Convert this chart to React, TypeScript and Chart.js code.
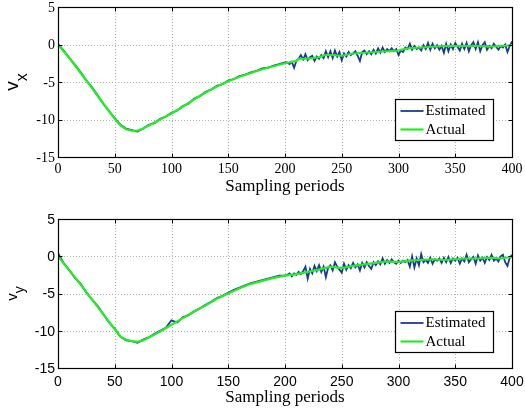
import React, { useEffect, useRef } from 'react';
import { Chart, registerables } from 'chart.js';

Chart.register(...registerables);

// ---------- data ----------
const X_MIN = 0;
const X_MAX = 400;
const Y_MIN = -15;
const Y_MAX = 5;
const xTickLabels = ['0', '50', '100', '150', '200', '250', '300', '350', '400'];
const yTickLabels = ['5', '0', '-5', '-10', '-15'];
const legendLabels = ['Estimated', 'Actual'];
const xTitle = 'Sampling periods';

function range(start: number, end: number, step: number): number[] {
  const out: number[] = [];
  for (let v = start; v <= end; v += step) out.push(v);
  return out;
}

// sample positions of the estimated signals (coarse in smooth part, dense in noisy part)
const estSamples = [...range(0, 200, 5), ...range(202, 400, 2)];

// v_x
const actualVxSamples = [0, 10, 20, 30, 40, 50, 55, 60, 65, 70, 75, 80, 90, 100, 110, 120, 130, 140, 150, 160, 170, 180, 190, 200, 210, 212, 220, 230, 235, 240, 250, 260, 270, 280, 290, 300, 305, 310, 320, 330, 340, 350, 360, 370, 380, 390, 400];
const actualVx = [0, -1.8, -3.8, -5.8, -7.9, -9.9, -10.8, -11.3, -11.5, -11.5, -11.2, -10.8, -10.0, -9.2, -8.3, -7.3, -6.4, -5.6, -4.9, -4.3, -3.8, -3.3, -2.9, -2.5, -2.2, -1.9, -1.9, -1.7, -1.4, -1.4, -1.5, -1.2, -1.1, -1.0, -0.9, -0.8, -0.6, -0.5, -0.4, -0.3, -0.2, -0.2, -0.2, -0.2, -0.3, -0.2, -0.1];
const estimatedVx = [
  0.1, -0.8, -1.8, -2.7, -3.7, -4.8, -5.7, -6.8, -7.9, -8.9,
  -9.8, -10.7, -11.2, -11.4, -11.6, -11.2, -10.7, -10.5, -9.9, -9.6,
  -9.1, -8.8, -8.2, -7.9, -7.2, -6.9, -6.3, -6.0, -5.5, -5.3,
  -4.8, -4.6, -4.2, -4.0, -3.7, -3.5, -3.2, -3.1, -2.8, -2.6,
  -2.4,
  -2.4, -2.6, -2.3, -3.1, -2.2, -1.9, -1.4, -2.0, -1.3, -2.1,
  -1.7, -1.5, -2.2, -1.6, -1.9, -1.4, -1.8, -0.9, -1.7, -0.9,
  -1.8, -0.8, -1.6, -1.0, -2.1, -1.2, -1.6, -1.0, -1.4, -1.2,
  -0.9, -1.5, -2.2, -1.0, -0.8, -1.3, -0.9, -1.3, -0.7, -1.2,
  -0.5, -1.1, -0.4, -1.0, -0.6, -0.9, -0.5, -0.9, -0.6, -1.4,
  -0.8, -1.0, -0.4, -0.6, 0.1, -0.7, -0.2, -0.6, -0.4, -0.8,
  -0.1, -0.6, 0.2, -0.7, 0.1, -0.5, -0.1, -0.7, -0.2, -1.1,
  0.1, -0.9, 0.0, -0.6, 0.2, -0.3, -0.8, 0.1, -0.6, 0.2,
  -0.9, -0.1, 0.3, -0.6, 0.3, -0.9, -0.1, 0.3, -0.7, -0.2,
  -0.5, 0.1, -0.3, -0.7, -0.2, -0.4, 0.0, -1.0, -0.2, 0.4,
];

// v_y
const actualVySamples = [0, 10, 20, 30, 40, 50, 55, 60, 65, 70, 75, 80, 90, 100, 110, 120, 130, 140, 150, 160, 170, 180, 190, 200, 210, 220, 230, 240, 250, 260, 270, 280, 290, 300, 310, 320, 330, 340, 350, 360, 370, 380, 390, 400];
const actualVy = [0, -1.9, -3.8, -5.8, -7.8, -9.8, -10.8, -11.2, -11.4, -11.5, -11.3, -10.9, -10.1, -9.2, -8.3, -7.4, -6.6, -5.7, -5.0, -4.3, -3.7, -3.3, -2.9, -2.6, -2.4, -2.1, -1.8, -1.4, -1.6, -1.3, -1.1, -0.9, -0.7, -0.8, -0.6, -0.5, -0.4, -0.5, -0.4, -0.3, -0.3, -0.2, -0.3, -0.1];
const estimatedVy = [
  0.4, -0.9, -1.9, -2.9, -3.7, -4.9, -5.8, -6.7, -7.8, -8.9,
  -9.7, -10.8, -11.3, -11.4, -11.6, -11.2, -10.9, -10.4, -10.0, -9.6,
  -8.6, -8.9, -8.2, -7.9, -7.4, -7.0, -6.5, -6.1, -5.6, -5.3,
  -4.9, -4.5, -4.2, -3.9, -3.6, -3.4, -3.2, -3.0, -2.8, -2.6,
  -2.6,
  -2.5, -2.3, -2.7, -2.3, -2.5, -2.1, -2.4, -2.0, -1.4, -3.0,
  -1.7, -2.3, -1.3, -2.0, -1.2, -2.1, -1.4, -2.8, -1.5, -1.2,
  -1.9, -0.8, -1.4, -1.8, -2.2, -1.0, -1.8, -1.2, -1.6, -0.9,
  -1.5, -1.1, -1.9, -0.9, -1.5, -0.8, -1.3, -1.7, -0.8, -1.2,
  -0.7, -1.1, -0.3, -1.0, -0.5, -0.9, -0.4, -0.8, -1.0, -0.6,
  -0.9, -0.6, -0.8, -0.5, -1.4, 0.0, -1.5, -0.3, -1.2, 0.3,
  -0.8, -0.5, -0.9, -0.2, -1.0, -0.4, -0.6, -0.3, -0.9, -0.2,
  -0.8, -0.1, -0.9, -0.3, -0.6, -0.2, -1.0, -0.3, -0.7, 0.2,
  -0.8, -0.4, -0.1, -1.0, 0.1, -0.6, -0.2, -0.9, -0.1, -0.5,
  0.2, -0.6, -0.3, -0.7, 0.0, 0.2, -0.8, -1.3, -0.2, 0.2,
];

// ---------- style ----------
const EST_COLOR = '#1a3a96';
const ACT_COLOR = '#22ee22';
const GRID_COLOR = '#b0b0b0';

type PanelCfg = {
  id: string;
  height: number;
  padTop: number;
  xAxisHeight: number;
  tickFont: string;
  xTickBaseline: number;
  sym: string;
  sub: string;
  symFont: string;
  subFont: string;
  symBaseX: number;
  subBaseX: number;
  legendBottomGap: number;
};

function pts(xs: number[], ys: number[]) {
  return ys.map((y, i) => ({ x: xs[i], y }));
}

function axesPlugin(cfg: PanelCfg) {
  return {
    id: 'matlabAxes_' + cfg.id,
    beforeDatasetsDraw(chart: any) {
      const { ctx, chartArea: a } = chart;
      const xs = chart.scales.x;
      const ys = chart.scales.y;
      ctx.save();
      ctx.strokeStyle = GRID_COLOR;
      ctx.lineWidth = 1;
      ctx.setLineDash([1, 2]);
      xTickLabels.forEach((l) => {
        const v = Number(l);
        if (v === X_MIN || v === X_MAX) return;
        const px = Math.round(xs.getPixelForValue(v)) + 0.5;
        ctx.beginPath();
        ctx.moveTo(px, a.top);
        ctx.lineTo(px, a.bottom);
        ctx.stroke();
      });
      yTickLabels.forEach((l) => {
        const v = Number(l);
        if (v === Y_MIN || v === Y_MAX) return;
        const py = Math.round(ys.getPixelForValue(v)) + 0.5;
        ctx.beginPath();
        ctx.moveTo(a.left, py);
        ctx.lineTo(a.right, py);
        ctx.stroke();
      });
      ctx.restore();
    },
    afterDraw(chart: any) {
      const { ctx, chartArea: a } = chart;
      const xs = chart.scales.x;
      const ys = chart.scales.y;
      ctx.save();
      ctx.setLineDash([]);
      // frame
      ctx.strokeStyle = '#000';
      ctx.lineWidth = 1.2;
      const L = Math.round(a.left) + 0.5;
      const R = Math.round(a.right) + 0.5;
      const T = Math.round(a.top) + 0.5;
      const B = Math.round(a.bottom) + 0.5;
      ctx.strokeRect(L, T, R - L, B - T);
      // inward ticks
      const tl = 4;
      ctx.lineWidth = 1;
      ctx.beginPath();
      xTickLabels.forEach((l) => {
        const px = Math.round(xs.getPixelForValue(Number(l))) + 0.5;
        ctx.moveTo(px, B);
        ctx.lineTo(px, B - tl);
        ctx.moveTo(px, T);
        ctx.lineTo(px, T + tl);
      });
      yTickLabels.forEach((l) => {
        const py = Math.round(ys.getPixelForValue(Number(l))) + 0.5;
        ctx.moveTo(L, py);
        ctx.lineTo(L + tl, py);
        ctx.moveTo(R, py);
        ctx.lineTo(R - tl, py);
      });
      ctx.stroke();
      // tick labels
      ctx.fillStyle = '#000';
      ctx.font = cfg.tickFont;
      ctx.textAlign = 'center';
      ctx.textBaseline = 'alphabetic';
      xTickLabels.forEach((l) => {
        const px = xs.getPixelForValue(Number(l));
        ctx.fillText(l, px, a.bottom + cfg.xTickBaseline);
      });
      ctx.textAlign = 'right';
      ctx.textBaseline = 'middle';
      yTickLabels.forEach((l) => {
        const py = ys.getPixelForValue(Number(l));
        ctx.fillText(l, a.left - 3, py + 1);
      });
      // x title
      ctx.font = '17px "Liberation Serif"';
      ctx.textAlign = 'center';
      ctx.textBaseline = 'alphabetic';
      ctx.fillText(xTitle, (a.left + a.right) / 2, a.bottom + 33.5);
      // y title (rotated, with subscript)
      const cy = (a.top + a.bottom) / 2;
      ctx.font = cfg.symFont;
      const w1 = ctx.measureText(cfg.sym).width;
      ctx.font = cfg.subFont;
      const w2 = ctx.measureText(cfg.sub).width;
      const total = w1 + w2;
      ctx.save();
      ctx.translate(0, cy);
      ctx.rotate(-Math.PI / 2);
      ctx.textAlign = 'left';
      ctx.font = cfg.symFont;
      ctx.fillText(cfg.sym, -total / 2, cfg.symBaseX);
      ctx.font = cfg.subFont;
      ctx.fillText(cfg.sub, -total / 2 + w1, cfg.subBaseX);
      ctx.restore();
      // legend
      const bw = 98;
      const bh = 41;
      const bx = Math.round(a.right - 19 - bw) + 0.5;
      const by = Math.round(a.bottom - cfg.legendBottomGap - bh) + 0.5;
      ctx.fillStyle = '#fff';
      ctx.fillRect(bx, by, bw, bh);
      ctx.strokeStyle = '#000';
      ctx.lineWidth = 1.2;
      ctx.strokeRect(bx, by, bw, bh);
      const rows = [
        { label: legendLabels[0], color: EST_COLOR, w: 1.8, dy: 11.5 },
        { label: legendLabels[1], color: ACT_COLOR, w: 2.2, dy: 30 },
      ];
      ctx.font = '15px "Liberation Serif"';
      ctx.textAlign = 'left';
      ctx.textBaseline = 'middle';
      rows.forEach((r) => {
        const yy = by + r.dy;
        ctx.strokeStyle = r.color;
        ctx.lineWidth = r.w;
        ctx.beginPath();
        ctx.moveTo(bx + 5, yy);
        ctx.lineTo(bx + 28, yy);
        ctx.stroke();
        ctx.fillStyle = '#000';
        ctx.fillText(r.label, bx + 30, yy + 0.5);
      });
      ctx.restore();
    },
  };
}

function Panel(props: {
  cfg: PanelCfg;
  estX: number[];
  est: number[];
  actX: number[];
  act: number[];
  top: number;
}) {
  const ref = useRef<HTMLCanvasElement | null>(null);
  const { cfg, estX, est, actX, act, top } = props;
  useEffect(() => {
    if (!ref.current) return;
    const chart = new Chart(ref.current, {
      type: 'line',
      data: {
        datasets: [
          {
            label: legendLabels[1],
            data: pts(actX, act),
            borderColor: ACT_COLOR,
            borderWidth: 2.2,
            pointRadius: 0,
            tension: 0,
            fill: false,
          },
          {
            label: legendLabels[0],
            data: pts(estX, est),
            borderColor: EST_COLOR,
            borderWidth: 1.8,
            pointRadius: 0,
            tension: 0,
            fill: false,
          },
        ],
      },
      options: {
        animation: false,
        responsive: false,
        maintainAspectRatio: false,
        layout: { padding: { top: cfg.padTop, right: 13, left: 0, bottom: 0 } },
        plugins: { legend: { display: false }, tooltip: { enabled: false } },
        scales: {
          x: {
            type: 'linear',
            min: X_MIN,
            max: X_MAX,
            ticks: { display: false, stepSize: 50 },
            grid: { display: false, drawTicks: false },
            border: { display: false },
            afterFit: (s: any) => {
              s.height = cfg.xAxisHeight;
            },
          },
          y: {
            type: 'linear',
            min: Y_MIN,
            max: Y_MAX,
            ticks: { display: false, stepSize: 5 },
            grid: { display: false, drawTicks: false },
            border: { display: false },
            afterFit: (s: any) => {
              s.width = 58;
            },
          },
        },
      },
      plugins: [axesPlugin(cfg)],
    } as any);
    return () => chart.destroy();
  }, []);
  return (
    <canvas
      ref={ref}
      width={525}
      height={cfg.height}
      style={{ position: 'absolute', left: 0, top, width: 525, height: cfg.height, display: 'block' }}
    />
  );
}

const topCfg: PanelCfg = {
  id: 'vx',
  height: 208,
  padTop: 7,
  xAxisHeight: 51,
  tickFont: '14px "Liberation Serif"',
  xTickBaseline: 15.5,
  sym: 'v',
  sub: 'x',
  symFont: '19px "Liberation Sans"',
  subFont: '16px "Liberation Sans"',
  symBaseX: 18,
  subBaseX: 27,
  legendBottomGap: 17,
};

const bottomCfg: PanelCfg = {
  id: 'vy',
  height: 208,
  padTop: 11,
  xAxisHeight: 48,
  tickFont: '14px "Liberation Sans"',
  xTickBaseline: 17.5,
  sym: 'v',
  sub: 'y',
  symFont: '15px "Liberation Sans"',
  subFont: '14px "Liberation Sans"',
  symBaseX: 17,
  subBaseX: 24,
  legendBottomGap: 16,
};

export default function App() {
  return (
    <div style={{ position: 'absolute', left: 0, top: 0, width: 525, height: 416, background: '#fff' }}>
      <Panel cfg={topCfg} estX={estSamples} est={estimatedVx} actX={actualVxSamples} act={actualVx} top={0} />
      <Panel cfg={bottomCfg} estX={estSamples} est={estimatedVy} actX={actualVySamples} act={actualVy} top={208} />
    </div>
  );
}
